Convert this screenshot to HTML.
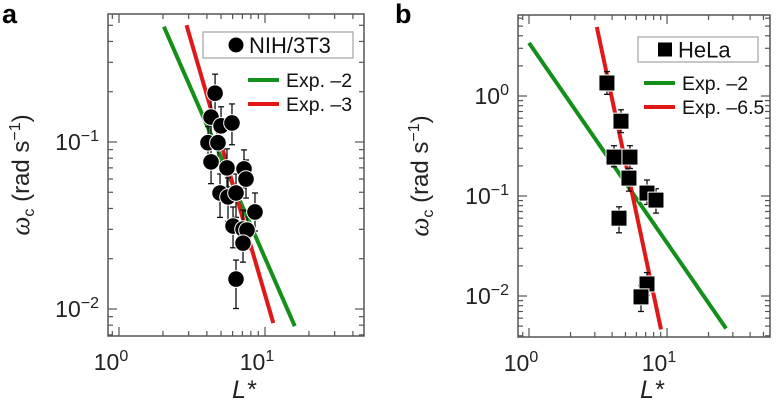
<!DOCTYPE html>
<html><head><meta charset="utf-8">
<style>
html,body{margin:0;padding:0;background:#fff;}
svg{display:block;font-family:"Liberation Sans",Arial,sans-serif;}
</style></head>
<body>
<svg id="fig" width="781" height="413" viewBox="0 0 781 413"></svg>
<script>
// Panel a data
const aL = [4.55,4.27,5.0,5.94,4.07,4.76,4.27,5.49,7.18,7.41,4.92,5.58,6.33,8.54,6.04,7.07,7.53,7.07,6.33];
const aW = [0.196,0.141,0.125,0.130,0.099,0.099,0.076,0.070,0.069,0.060,0.0495,0.0469,0.0495,0.0381,0.0314,0.0301,0.0297,0.0248,0.0151];
const aErrUp = [1.3,1.3,1.3,1.3,1.25,1.25,1.3,1.3,1.3,1.3,1.3,1.3,1.3,1.3,1.3,1.3,1.3,1.3,1.3];
const aErrDn = [1.3,1.3,1.3,1.35,1.3,1.3,1.35,1.3,1.3,1.3,1.4,1.4,1.4,1.3,1.35,1.3,1.3,1.3,1.5];
const aFitExp = [-2,-3];
const aFitAmp = [2.02,12.2];
const aFitRange = [[2.03,16],[2.9,11.4]];
// Panel b data
const bL = [3.67,4.64,4.13,5.39,5.3,7.16,8.32,4.49,7.16,6.48];
const bW = [1.35,0.56,0.245,0.245,0.151,0.107,0.091,0.060,0.0132,0.0098];
const bErrUp = [1.3,1.3,1.3,1.3,1.25,1.35,1.3,1.3,1.3,1.3];
const bErrDn = [1.3,1.3,1.25,1.3,1.35,1.3,1.35,1.4,1.3,1.4];
const bFitExp = [-2,-6.5];
const bFitAmp = [3.4,7650];
const bFitRange = [[1.0,26.8],[3.1,9.05]];
const xTickLabels = ["0","1"];
const aYTickExp = [-1,-2];
const bYTickExp = [0,-1,-2];

const NS="http://www.w3.org/2000/svg";
const svg=document.getElementById('fig');
function mk(tag,attrs,parent){const e=document.createElementNS(NS,tag);for(const k in attrs)e.setAttribute(k,attrs[k]);(parent||svg).appendChild(e);return e;}

function panel(cfg){
  const g=mk('g',{});
  
  
  const X=v=>cfg.x0+(Math.log10(v))*cfg.xd;
  const Y=v=>cfg.y0-(Math.log10(v)-cfg.yRef)*cfg.yd;
  const lt=mk('text',{x:cfg.letterX,y:23,'font-size':27,'font-weight':'bold'},g);lt.textContent=cfg.letter;
  
  
  const fr=mk('rect',{x:cfg.L,y:cfg.T,width:cfg.R-cfg.L,height:cfg.B-cfg.T,fill:'none',stroke:'#555','stroke-width':1.5},g);
  
  
  const tk=mk('g',{stroke:'#555','stroke-width':1.2},g);
  
  
  for(let d=-1;d<=2;d++)for(let m=1;m<=9;m++){
    const v=m*Math.pow(10,d);const px=X(v);if(px<cfg.L+1||px>cfg.R-1)continue;
    const len=m===1?9:5;
    mk('line',{x1:px,x2:px,y1:cfg.B,y2:cfg.B-len},tk);mk('line',{x1:px,x2:px,y1:cfg.T,y2:cfg.T+len},tk);
  }
  for(let d=-4;d<=2;d++)for(let m=1;m<=9;m++){
    const v=m*Math.pow(10,d);const py=Y(v);if(py<cfg.T+1||py>cfg.B-1)continue;
    const len=m===1?9:5;
    mk('line',{y1:py,y2:py,x1:cfg.L,x2:cfg.L+len},tk);mk('line',{y1:py,y2:py,x1:cfg.R,x2:cfg.R-len},tk);
  }
  xTickLabels.forEach(s=>{
    const t=mk('text',{x:X(Math.pow(10,+s))-8,y:cfg.B+34,'font-size':23,'text-anchor':'middle',fill:'#222'},g);
    t.innerHTML='10<tspan dy="-9" font-size="16">'+s+'</tspan>';
    
    
  });
  cfg.yTicks.forEach(e=>{
    const t=mk('text',{x:cfg.L-9,y:Y(Math.pow(10,e))+8,'font-size':23,'text-anchor':'end',fill:'#222'},g);
    t.innerHTML='10<tspan dy="-9" font-size="16">'+(e===0?'0':'\u2212'+(-e))+'</tspan>';
    
    
  });
  const xt=mk('text',{x:(cfg.L+cfg.R)/2+8,y:398,'font-size':25,'font-style':'italic','text-anchor':'middle',fill:'#222'},g);
  xt.textContent='L*';
  
  
  const yt=mk('text',{transform:'translate('+cfg.yTitleX+','+((cfg.T+cfg.B)/2)+') rotate(-90)','font-size':24,'text-anchor':'middle',fill:'#222'},g);
  yt.innerHTML='<tspan font-family="Liberation Serif" font-style="italic" font-size="27">ω</tspan><tspan dy="5" font-size="16">c</tspan><tspan dy="-5"> (rad s</tspan><tspan dy="-9" font-size="16">−1</tspan><tspan dy="9">)</tspan>';
  
  
  const cols=['#14901a','#e01818'];
  cfg.fitExp.forEach((ex,i)=>{
    const [l0,l1]=cfg.fitRange[i];
    const ln=mk('line',{x1:X(l0),y1:Y(cfg.fitAmp[i]*Math.pow(l0,ex)),x2:X(l1),y2:Y(cfg.fitAmp[i]*Math.pow(l1,ex)),stroke:cols[i],'stroke-width':4},g);
    
    
  });
  const eg=mk('g',{stroke:'#111','stroke-width':1.3},g);
  
  
  cfg.Ls.forEach((l,i)=>{
    const px=X(l),w=cfg.Ws[i];
    const yu=Y(w*cfg.up[i]),yd=Y(w/cfg.dn[i]);
    mk('line',{x1:px,x2:px,y1:yu,y2:yd},eg);
    mk('line',{x1:px-3,x2:px+3,y1:yu,y2:yu},eg);mk('line',{x1:px-3,x2:px+3,y1:yd,y2:yd},eg);
  });
  const mg=mk('g',{},g);
  
  
  cfg.Ls.forEach((l,i)=>{
    const px=X(l),py=Y(cfg.Ws[i]);let m;
    if(cfg.square)m=mk('rect',{x:px-8,y:py-8,width:16,height:16,fill:'#000',stroke:'#fff','stroke-width':1},mg);
    else m=mk('circle',{cx:px,cy:py,r:8.3,fill:'#000',stroke:'#fff','stroke-width':1},mg);
    
    
  });
  const lg=mk('g',{},g);
  
  
  const b=cfg.leg;
  mk('rect',{x:b.x,y:b.y,width:b.w,height:b.h,fill:'#fff',stroke:'#aaa','stroke-width':1.3},lg);
  if(cfg.square)mk('rect',{x:b.mx-7,y:b.y+b.h/2-7,width:14,height:14,fill:'#000'},lg);
  else mk('circle',{cx:b.mx,cy:b.y+b.h/2,r:7.5,fill:'#000'},lg);
  const lt1=mk('text',{x:b.mx+13,y:b.y+b.h/2+8,'font-size':22,fill:'#111'},lg);lt1.textContent=cfg.series;
  
  
  cfg.fitExp.forEach((ex,i)=>{
    const yy=b.ly+i*24;
    mk('line',{x1:b.lx,x2:b.lx+31,y1:yy,y2:yy,stroke:cols[i],'stroke-width':4},lg);
    const t=mk('text',{x:b.lx+38,y:yy+7,'font-size':19.5,fill:'#111'},lg);t.textContent='Exp. \u2013'+Math.abs(ex);
    
    
  });
}

panel({name:'panel-a',letter:'a',letterX:2,L:108,R:364,T:14,B:336,x0:119,xd:146,y0:142,yRef:-1,yd:167,
  yTicks:aYTickExp,yTitleX:29,Ls:aL,Ws:aW,up:aErrUp,dn:aErrDn,fitExp:aFitExp,fitAmp:aFitAmp,fitRange:aFitRange,
  square:false,series:'NIH/3T3',leg:{x:203,y:32,w:150,h:26,mx:236,lx:248,ly:80}});
panel({name:'panel-b',letter:'b',letterX:395,L:518,R:770,T:15,B:337,x0:529,xd:138,y0:96,yRef:0,yd:100,
  yTicks:bYTickExp,yTitleX:428,Ls:bL,Ws:bW,up:bErrUp,dn:bErrDn,fitExp:bFitExp,fitAmp:bFitAmp,fitRange:bFitRange,
  square:true,series:'HeLa',leg:{x:638,y:37,w:120,h:25,mx:665,lx:644,ly:83}});
</script>
</body></html>
